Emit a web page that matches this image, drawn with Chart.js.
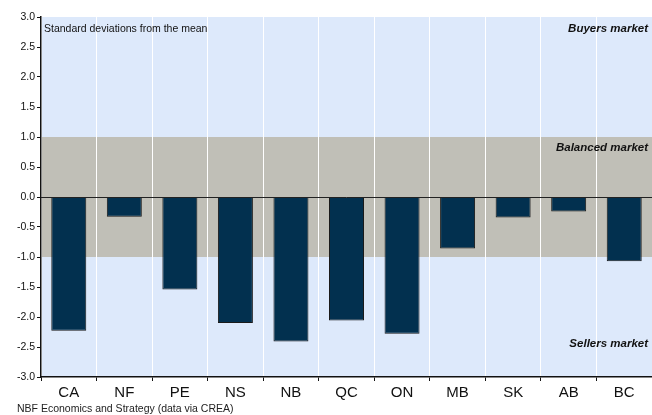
<!DOCTYPE html>
<html><head><meta charset="utf-8">
<script src="https://cdn.jsdelivr.net/npm/chart.js@4.4.1/dist/chart.umd.min.js"></script>
<style>html,body{margin:0;padding:0;background:#fff}#wrap{width:652px;height:415px}</style>
</head><body><div id="wrap"><canvas id="c" width="652" height="415"></canvas></div>
<script>
const categories = ["CA","NF","PE","NS","NB","QC","ON","MB","SK","AB","BC"];
const values = [-2.23, -0.33, -1.54, -2.10, -2.41, -2.06, -2.28, -0.86, -0.34, -0.24, -1.07];
const yTicks = [3.0,2.5,2.0,1.5,1.0,0.5,0.0,-0.5,-1.0,-1.5,-2.0,-2.5,-3.0];
const bands = [{from:1, to:3, color:"#dde9fb"},{from:-1,to:1,color:"#c0bfb7"},{from:-3,to:-1,color:"#dde9fb"}];
const zoneLabels = [{text:"Buyers market", y:2.8},{text:"Balanced market", y:0.82},{text:"Sellers market", y:-2.45}];
const subtitle = "Standard deviations from the mean";
const footer = "NBF Economics and Strategy (data via CREA)";

const FONT = "'Liberation Sans', Arial, sans-serif";
const bgPlugin = {
  id:'bg',
  beforeDraw(chart){
    const {ctx, chartArea:a, scales:{y}} = chart;
    ctx.save();
    bands.forEach(b=>{
      const t = y.getPixelForValue(b.to), f = y.getPixelForValue(b.from);
      ctx.fillStyle = b.color;
      ctx.fillRect(a.left, t, a.right-a.left, f-t);
    });
    ctx.restore();
  },
  afterDatasetsDraw(chart){
    const {ctx, chartArea:a, scales:{y}} = chart;
    ctx.save();
    const z = Math.round(y.getPixelForValue(0))+0.5;
    ctx.strokeStyle = "#222"; ctx.lineWidth = 1;
    ctx.beginPath(); ctx.moveTo(a.left, z); ctx.lineTo(a.right, z); ctx.stroke();
    ctx.fillStyle = "#111";
    ctx.font = "10.5px " + FONT;
    ctx.textBaseline = "middle"; ctx.textAlign = "left";
    ctx.fillText(subtitle, a.left+3, y.getPixelForValue(2.8));
    ctx.font = "italic bold 11.5px " + FONT;
    ctx.textAlign = "right";
    zoneLabels.forEach(l=>ctx.fillText(l.text, a.right-4, y.getPixelForValue(l.y)));
    ctx.font = "10.5px " + FONT; ctx.textAlign = "left"; ctx.fillStyle="#222";
    ctx.fillText(footer, 17, 409);
    ctx.restore();
  }
};

new Chart(document.getElementById('c'), {
  type:'bar',
  data:{labels:categories, datasets:[{data:values, backgroundColor:"#02304f", borderColor:"#1a1a1a", borderWidth:1, barPercentage:0.63, categoryPercentage:1}]},
  options:{
    responsive:false, animation:false, devicePixelRatio:1,
    layout:{padding:{top:17,right:0,bottom:0,left:0}},
    plugins:{legend:{display:false}, tooltip:{enabled:false}},
    scales:{
      x:{
        grid:{offset:true, color:"#ffffff", lineWidth:1, tickColor:"#111", tickLength:4, drawOnChartArea:true},
        border:{color:"#111", width:1.5},
        ticks:{color:"#111", font:{family:FONT, size:15}, padding:3},
        afterFit(s){ s.height = 38; }
      },
      y:{
        min:-3, max:3,
        afterBuildTicks(s){ s.ticks = yTicks.map(v=>({value:v})); },
        grid:{drawOnChartArea:false, color:"#111", tickColor:"#111", tickLength:4},
        border:{color:"#111", width:1.5},
        ticks:{color:"#111", font:{family:FONT, size:10.5}, padding:2, callback:v=>Number(v).toFixed(1)},
        afterFit(s){ s.width = 41; }
      }
    }
  },
  plugins:[bgPlugin]
});
</script></body></html>
